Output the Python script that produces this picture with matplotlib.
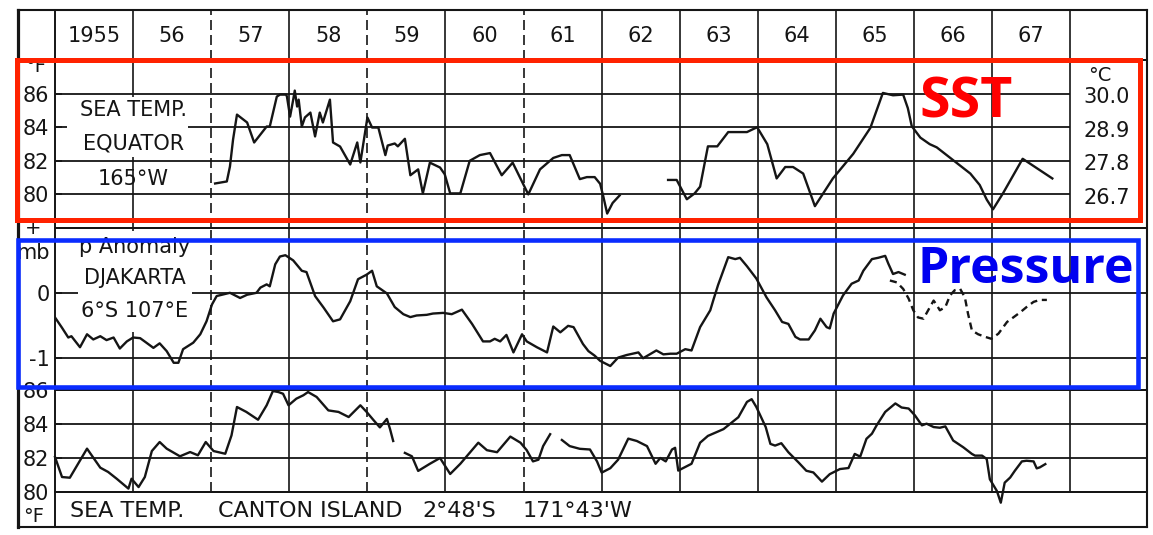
import matplotlib.pyplot as plt
from matplotlib.patches import Rectangle
from matplotlib.transforms import blended_transform_factory

# ---- data ----
year_labels = ['1955', '56', '57', '58', '59', '60', '61', '62', '63', '64', '65', '66', '67']
year_edges = list(range(1955, 1969))
dashed_edges = [1957, 1959, 1961]

# sea temp, equator 165W (deg F), two pieces
eq_a_t = [1957.05, 1957.20, 1957.24, 1957.28, 1957.33, 1957.46, 1957.55, 1957.71, 1957.75, 1957.84,
          1957.88, 1957.96, 1957.97, 1958.01, 1958.05, 1958.07, 1958.10, 1958.12, 1958.16, 1958.20,
          1958.27, 1958.33, 1958.39, 1958.43, 1958.52, 1958.56, 1958.65, 1958.78, 1958.87, 1958.91,
          1959.00, 1959.06, 1959.14, 1959.23, 1959.26, 1959.35, 1959.39, 1959.48, 1959.55, 1959.65,
          1959.71, 1959.80, 1959.93, 1959.99, 1960.06, 1960.19, 1960.31, 1960.44, 1960.57, 1960.72,
          1960.86, 1961.06, 1961.21, 1961.38, 1961.49, 1961.59, 1961.72, 1961.81, 1961.91, 1961.98,
          1962.02, 1962.07, 1962.14, 1962.23]
eq_a_v = [80.65, 80.77, 81.66, 83.27, 84.75, 84.28, 83.09, 84.04, 84.04, 85.82,
          85.94, 85.94, 85.82, 84.63, 85.64, 86.18, 85.23, 85.64, 84.04, 84.58,
          84.87, 83.45, 84.87, 84.28, 85.64, 83.09, 82.85, 81.78, 83.09, 81.90,
          84.58, 83.98, 83.98, 82.34, 82.91, 83.03, 82.86, 83.31, 81.14, 81.49,
          80.06, 81.89, 81.60, 81.20, 80.06, 80.06, 82.00, 82.34, 82.46, 81.14,
          81.89, 80.00, 81.49, 82.17, 82.34, 82.34, 80.91, 81.03, 81.03, 80.63,
          79.89, 78.86, 79.49, 79.94]
eq_b_t = [1962.85, 1962.96, 1963.09, 1963.19, 1963.26, 1963.36, 1963.48, 1963.62, 1963.86, 1963.99,
          1964.12, 1964.24, 1964.35, 1964.45, 1964.58, 1964.73, 1964.96, 1965.22, 1965.44, 1965.60,
          1965.73, 1965.86, 1965.92, 1965.97, 1966.08, 1966.20, 1966.29, 1966.72, 1966.84, 1966.93,
          1967.01, 1967.14, 1967.39, 1967.77]
eq_b_v = [80.86, 80.86, 79.71, 80.06, 80.46, 82.86, 82.86, 83.71, 83.71, 84.00,
          82.99, 80.95, 81.63, 81.63, 81.24, 79.30, 80.95, 82.41, 83.96, 86.04,
          85.90, 85.94, 85.13, 84.06, 83.38, 82.99, 82.80, 81.24, 80.56, 79.69,
          79.11, 80.08, 82.12, 80.95]

# pressure anomaly, Djakarta (mb)
pr_t = [1955.00, 1955.09, 1955.17, 1955.21, 1955.32, 1955.41, 1955.49, 1955.58, 1955.66, 1955.75,
        1955.83, 1955.92, 1956.00, 1956.09, 1956.17, 1956.26, 1956.34, 1956.43, 1956.52, 1956.58,
        1956.64, 1956.77, 1956.86, 1956.94, 1957.01, 1957.07, 1957.24, 1957.37, 1957.46, 1957.58,
        1957.63, 1957.71, 1957.75, 1957.82, 1957.88, 1957.95, 1958.05, 1958.16, 1958.22, 1958.33,
        1958.44, 1958.56, 1958.65, 1958.78, 1958.88, 1958.99, 1959.06, 1959.12,
        1959.25, 1959.35, 1959.46, 1959.55, 1959.63, 1959.76, 1959.84, 1959.97, 1960.08, 1960.21,
        1960.34, 1960.48, 1960.57, 1960.63, 1960.70, 1960.78, 1960.87, 1960.98, 1961.04, 1961.17,
        1961.30, 1961.38, 1961.47, 1961.57, 1961.64, 1961.76, 1961.83, 1961.91, 1961.98, 1962.11,
        1962.21, 1962.32, 1962.47, 1962.53, 1962.70, 1962.79, 1962.88, 1962.96, 1963.07, 1963.15,
        1963.26, 1963.39, 1963.43, 1963.49, 1963.62, 1963.71, 1963.77, 1963.86, 1963.98,
        1964.11, 1964.22, 1964.31, 1964.39, 1964.48, 1964.54, 1964.65, 1964.73, 1964.80, 1964.88,
        1964.92, 1964.97, 1965.09, 1965.20, 1965.29, 1965.35, 1965.46, 1965.54, 1965.63, 1965.67,
        1965.73, 1965.80, 1965.88]
pr_v = [-0.38, -0.54, -0.69, -0.67, -0.84, -0.64, -0.72, -0.67, -0.73, -0.69,
        -0.86, -0.75, -0.69, -0.70, -0.77, -0.85, -0.78, -0.90, -1.08, -1.08,
        -0.87, -0.77, -0.64, -0.44, -0.18, -0.05, 0.00, -0.08, -0.03, 0.00,
        0.08, 0.13, 0.10, 0.44, 0.56, 0.58, 0.50, 0.34, 0.32, -0.05,
        -0.23, -0.44, -0.41, -0.13, 0.21, 0.28, 0.34, 0.10,
        -0.01, -0.22, -0.33, -0.375, -0.35, -0.34, -0.32, -0.31, -0.33, -0.26,
        -0.48, -0.75, -0.75, -0.71, -0.75, -0.65, -0.92, -0.64, -0.75, -0.84,
        -0.92, -0.52, -0.61, -0.51, -0.53, -0.79, -0.90, -0.97, -1.05, -1.13,
        -1.00, -0.96, -0.92, -1.01, -0.89, -0.95, -0.94, -0.94, -0.87, -0.89,
        -0.53, -0.27, -0.11, 0.12, 0.55, 0.52, 0.54, 0.41, 0.22,
        -0.07, -0.27, -0.45, -0.48, -0.68, -0.72, -0.72, -0.58, -0.40, -0.53,
        -0.55, -0.32, -0.04, 0.14, 0.19, 0.34, 0.52, 0.54, 0.57, 0.45,
        0.29, 0.32, 0.28]
# dashed continuation
pr_d_t = [1965.69, 1965.78, 1965.86, 1965.93, 1965.99, 1966.05, 1966.12, 1966.18, 1966.25, 1966.29,
          1966.33, 1966.40, 1966.46, 1966.52, 1966.59, 1966.65, 1966.69, 1966.74, 1966.82, 1966.91,
          1966.99, 1967.08, 1967.19, 1967.27, 1967.36, 1967.44, 1967.53, 1967.61, 1967.70]
pr_d_v = [0.19, 0.16, 0.06, -0.09, -0.27, -0.38, -0.40, -0.27, -0.12, -0.19,
          -0.27, -0.22, -0.04, 0.04, 0.06, -0.07, -0.32, -0.58, -0.64, -0.68,
          -0.71, -0.63, -0.45, -0.38, -0.30, -0.22, -0.14, -0.11, -0.11]

# sea temp, Canton Island (deg F), three pieces
ct_a_t = [1955.00, 1955.09, 1955.19, 1955.41, 1955.58, 1955.68, 1955.79, 1955.94, 1955.98, 1956.07,
          1956.15, 1956.24, 1956.34, 1956.43, 1956.60, 1956.73, 1956.83, 1956.93, 1957.03, 1957.18,
          1957.26, 1957.33, 1957.45, 1957.60, 1957.71, 1957.79, 1957.86, 1957.92, 1957.99, 1958.09,
          1958.18, 1958.24, 1958.35, 1958.50, 1958.63, 1958.76, 1958.91, 1958.99, 1959.08, 1959.16,
          1959.25, 1959.29, 1959.33]
ct_a_v = [82.06, 80.88, 80.84, 82.55, 81.43, 81.18, 80.78, 80.20, 80.78, 80.29,
          80.88, 82.41, 82.94, 82.55, 82.10, 82.35, 82.16, 82.94, 82.41, 82.25,
          83.33, 85.00, 84.71, 84.25, 85.10, 85.94, 85.88, 85.78, 85.10, 85.49,
          85.69, 85.88, 85.59, 84.80, 84.71, 84.41, 85.10, 84.71, 84.22, 83.80,
          84.30, 83.70, 83.00]
ct_b_t = [1959.48, 1959.57, 1959.65, 1959.80, 1959.93, 1960.06, 1960.19, 1960.29, 1960.42, 1960.53,
          1960.66, 1960.83, 1960.96, 1961.04, 1961.12, 1961.19, 1961.25, 1961.34]
ct_b_v = [82.30, 82.10, 81.24, 81.66, 82.00, 81.06, 81.66, 82.20, 82.90, 82.46,
          82.34, 83.26, 82.90, 82.46, 81.80, 81.90, 82.70, 83.40]
ct_c_t = [1961.49, 1961.59, 1961.72, 1961.85, 1961.94, 1962.00, 1962.11, 1962.21, 1962.34, 1962.45,
          1962.58, 1962.69, 1962.75, 1962.82, 1962.90, 1962.94, 1962.98, 1963.15, 1963.26, 1963.36,
          1963.56, 1963.75, 1963.86, 1963.92, 1963.98,
          1964.03, 1964.10, 1964.16, 1964.22, 1964.30, 1964.39, 1964.52, 1964.62, 1964.71, 1964.82,
          1964.92, 1965.05, 1965.16, 1965.24, 1965.31, 1965.39, 1965.46, 1965.52, 1965.63, 1965.76,
          1965.84, 1965.93, 1966.01, 1966.10, 1966.16, 1966.25, 1966.33, 1966.40, 1966.50, 1966.63,
          1966.74, 1966.78, 1966.87, 1966.93, 1966.97, 1967.06, 1967.11, 1967.16, 1967.23, 1967.29,
          1967.38, 1967.44, 1967.53, 1967.57, 1967.61, 1967.68]
ct_c_v = [83.06, 82.70, 82.54, 82.50, 81.80, 81.14, 81.40, 81.90, 83.14, 83.00,
          82.70, 81.66, 82.00, 81.80, 82.50, 82.60, 81.26, 81.66, 82.90, 83.30,
          83.70, 84.40, 85.30, 85.46, 85.00,
          84.51, 83.82, 82.83, 82.73, 82.87, 82.34, 81.74, 81.25, 81.15, 80.61,
          81.05, 81.35, 81.41, 82.24, 82.08, 83.13, 83.43, 83.92, 84.71, 85.21,
          84.97, 84.91, 84.51, 83.92, 84.02, 83.82, 83.78, 83.86, 83.03, 82.63,
          82.24, 82.14, 82.14, 81.94, 80.75, 80.06, 79.37, 80.55, 80.85, 81.25,
          81.80, 81.84, 81.80, 81.39, 81.45, 81.64]

sst_ticks = [80, 82, 84, 86]
celsius = ['26.7', '27.8', '28.9', '30.0']
canton_ticks = [80, 82, 84, 86]

# ---- layout (pixel boxes of the scan) ----
W, H = 1153, 535
INK = '#151515'
LW = 1.7
FS = 15
plt.rcParams['font.family'] = 'DejaVu Sans'
fig = plt.figure(figsize=(W / 100, H / 100), dpi=100)


def box(x0, y0, x1, y1):
    return [x0 / W, 1 - y1 / H, (x1 - x0) / W, (y1 - y0) / H]


XMAX = 1955 + (1147 - 55) / 78.1

frame = fig.add_axes(box(18, 10, 1147, 527))
frame.set_xticks([])
frame.set_yticks([])
for s in frame.spines.values():
    s.set_color(INK)
    s.set_linewidth(1.5)
frame.spines['left'].set_linewidth(2.3)


def panel(y0, y1, ylo, yhi, edges=True):
    ax = fig.add_axes(box(55, y0, 1147, y1))
    ax.set_xlim(1955, XMAX)
    ax.set_ylim(ylo, yhi)
    ax.set_xticks([])
    ax.set_yticks([])
    ax.patch.set_alpha(0)
    for s in ax.spines.values():
        s.set_color(INK)
        s.set_linewidth(1.4)
    ax.tick_params(axis='y', direction='in', length=5, width=1.2,
                   labelsize=FS, pad=4, colors=INK)
    if edges:
        for e in year_edges[1:]:
            ax.axvline(e, color=INK, lw=1.2, zorder=1,
                       ls=(0, (6, 3)) if e in dashed_edges else '-')
    return ax


# header with years
head = panel(10, 60, 0, 1)
for i, lab in enumerate(year_labels):
    head.text(year_edges[i] + 0.5, 0.47, lab, ha='center', va='center',
              fontsize=FS, color=INK)

# equator sea temperature
sst = panel(60, 228, 78, 88)
sst.hlines(sst_ticks, 1955, 1968, color=INK, lw=1.3, zorder=1)
sst.set_yticks(sst_ticks)
sst.set_yticklabels([str(t) for t in sst_ticks])
sst.add_patch(Rectangle((1955.15, 82.2), 1.55, 3.6, fc='white', ec='none', zorder=1.5))
sst.plot(eq_a_t, eq_a_v, color=INK, lw=LW, zorder=3)
sst.plot(eq_b_t, eq_b_v, color=INK, lw=LW, zorder=3)
for t, c in zip(sst_ticks, celsius):
    sst.text(1968.47, t - 0.2, c, ha='center', va='center', fontsize=FS, color=INK)
sst.text(1968.38, 87.1, '°C', ha='center', va='center', fontsize=14, color=INK)
left = blended_transform_factory(sst.transAxes, sst.transData)
sst.text(-0.018, 87.6, '°F', transform=left, ha='center', va='center', fontsize=14, color=INK)
for txt, y in [('SEA TEMP.', 85.05), ('EQUATOR', 83.05), ('165°W', 80.9)]:
    sst.text(1956.0, y, txt, ha='center', va='center', fontsize=FS, color=INK, zorder=4)

# pressure anomaly
pr = panel(228, 390, -1.5, 1.0)
pr.hlines([0, -1], 1955, XMAX, color=INK, lw=1.3, zorder=1)
pr.set_yticks([0, -1])
pr.set_yticklabels(['0', '-1'])
pr.add_patch(Rectangle((1955.3, -0.6), 1.45, 1.55, fc='white', ec='none', zorder=1.5))
pr.plot(pr_t, pr_v, color=INK, lw=LW, zorder=3)
pr.plot(pr_d_t, pr_d_v, color=INK, lw=LW, ls=(0, (3, 2)), zorder=3)
left = blended_transform_factory(pr.transAxes, pr.transData)
pr.text(-0.02, 0.61, 'mb', transform=left, ha='center', va='center', fontsize=FS, color=INK)
pr.text(-0.02, 0.99, '+', transform=left, ha='center', va='center', fontsize=14, color=INK)
for txt, y in [('p Anomaly', 0.71), ('DJAKARTA', 0.23), ('6°S 107°E', -0.28)]:
    pr.text(1956.02, y, txt, ha='center', va='center', fontsize=FS, color=INK, zorder=4)

# Canton Island sea temperature
ct = panel(390, 492, 80, 86)
ct.hlines([82, 84], 1955, XMAX, color=INK, lw=1.3, zorder=1)
ct.set_yticks(canton_ticks)
ct.set_yticklabels([str(t) for t in canton_ticks])
for tt, vv in [(ct_a_t, ct_a_v), (ct_b_t, ct_b_v), (ct_c_t, ct_c_v)]:
    ct.plot(tt, vv, color=INK, lw=LW, zorder=3, clip_on=False)

# footer caption
foot = panel(492, 527, 0, 1, edges=False)
foot.text(-0.02, 0.3, '°F', transform=foot.transAxes, ha='center', va='center',
          fontsize=14, color=INK)
for txt, x in [('SEA TEMP.', 1955.19), ('CANTON ISLAND', 1957.09),
               ("2°48'S", 1959.70), ("171°43'W", 1960.99)]:
    foot.text(x, 0.45, txt, ha='left', va='center', fontsize=16, color=INK)

# overlay highlight boxes
fig.add_artist(Rectangle((17 / W, 1 - 220 / H), 1123 / W, 160 / H, transform=fig.transFigure,
                         fill=False, ec='#ff2200', lw=3.6, zorder=10))
fig.add_artist(Rectangle((18 / W, 1 - 387 / H), 1120 / W, 147 / H, transform=fig.transFigure,
                         fill=False, ec='#0a2cff', lw=3.3, zorder=10))
fig.text(966 / W, 1 - 117 / H, 'SST', color='#ff0000', fontsize=40, fontweight='bold',
         family='Open Sans', ha='center', va='baseline', zorder=11)
fig.text(1026 / W, 1 - 283 / H, 'Pressure', color='#0000f0', fontsize=36, fontweight='bold',
         family='Open Sans', ha='center', va='baseline', zorder=11)

fig.savefig('out.png', dpi=100)
